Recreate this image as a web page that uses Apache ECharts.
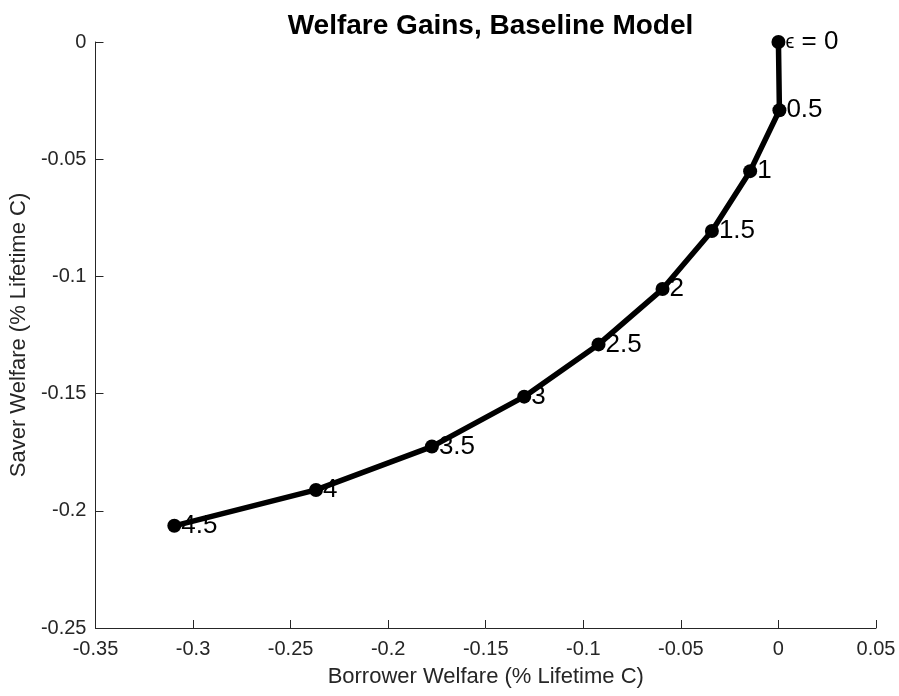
<!DOCTYPE html>
<html>
<head>
<meta charset="utf-8">
<script src="https://cdn.jsdelivr.net/npm/echarts@6/dist/echarts.min.js"></script>
<style>
html,body{margin:0;padding:0;background:#fff;}
#chart{width:899px;height:696px;}
</style>
</head>
<body>
<div id="chart"></div>
<script>
// Data
const epsLabels = ['ϵ = 0', '0.5', '1', '1.5', '2', '2.5', '3', '3.5', '4', '4.5'];
const borrowerWelfare = [0, 0.0005, -0.0145, -0.0341, -0.0594, -0.0922, -0.1303, -0.1776, -0.2370, -0.3096];
const saverWelfare = [0, -0.0291, -0.0551, -0.0806, -0.1054, -0.1290, -0.1513, -0.1726, -0.1911, -0.2064];

const FONT = '"Liberation Sans", Arial, Helvetica, sans-serif';
const AXIS_COLOR = '#262626';

const seriesData = borrowerWelfare.map((x, i) => ({
  value: [x, saverWelfare[i]],
  name: epsLabels[i]
}));

const fmt = v => String(parseFloat(Number(v).toFixed(4)));

const chart = echarts.init(document.getElementById('chart'));
chart.setOption({
  animation: false,
  backgroundColor: '#fff',
  title: {
    text: 'Welfare Gains, Baseline Model',
    left: 485.5,
    textAlign: 'center',
    top: 7,
    textStyle: { fontFamily: FONT, fontSize: 28, fontWeight: 'bold', color: '#000' }
  },
  grid: { left: 95, right: 23, top: 42, bottom: 68, containLabel: false },
  xAxis: {
    type: 'value',
    min: -0.35, max: 0.05, interval: 0.05,
    name: 'Borrower Welfare (% Lifetime C)',
    nameLocation: 'middle',
    nameGap: 38,
    nameTextStyle: { fontFamily: FONT, fontSize: 22, color: AXIS_COLOR },
    axisLine: { show: true, onZero: false, lineStyle: { color: AXIS_COLOR, width: 1 } },
    axisTick: { show: true, inside: true, length: 8, lineStyle: { color: AXIS_COLOR } },
    axisLabel: { margin: 11, fontFamily: FONT, fontSize: 20, color: AXIS_COLOR, formatter: fmt, showMinLabel: true, showMaxLabel: true },
    splitLine: { show: false }
  },
  yAxis: {
    type: 'value',
    min: -0.25, max: 0, interval: 0.05,
    name: 'Saver Welfare (% Lifetime C)',
    nameLocation: 'middle',
    nameGap: 59,
    nameTextStyle: { fontFamily: FONT, fontSize: 22, color: AXIS_COLOR },
    axisLine: { show: true, onZero: false, lineStyle: { color: AXIS_COLOR, width: 1 } },
    axisTick: { show: true, inside: true, length: 8, lineStyle: { color: AXIS_COLOR } },
    axisLabel: { margin: 9, fontFamily: FONT, fontSize: 20, color: AXIS_COLOR, formatter: fmt, showMinLabel: true, showMaxLabel: true },
    splitLine: { show: false }
  },
  series: [{
    type: 'line',
    data: seriesData,
    symbol: 'circle',
    symbolSize: 14,
    showAllSymbol: true,
    clip: false,
    lineStyle: { color: '#000', width: 5.5 },
    itemStyle: { color: '#000' },
    label: {
      show: true,
      position: 'right',
      distance: 0,
      fontFamily: FONT,
      fontSize: 26,
      color: '#000',
      formatter: p => p.dataIndex === 0 ? '{e|ϵ} = 0' : p.name,
      rich: { e: { fontFamily: FONT, fontSize: 20, color: '#000' } }
    }
  }]
});
</script>
</body>
</html>
